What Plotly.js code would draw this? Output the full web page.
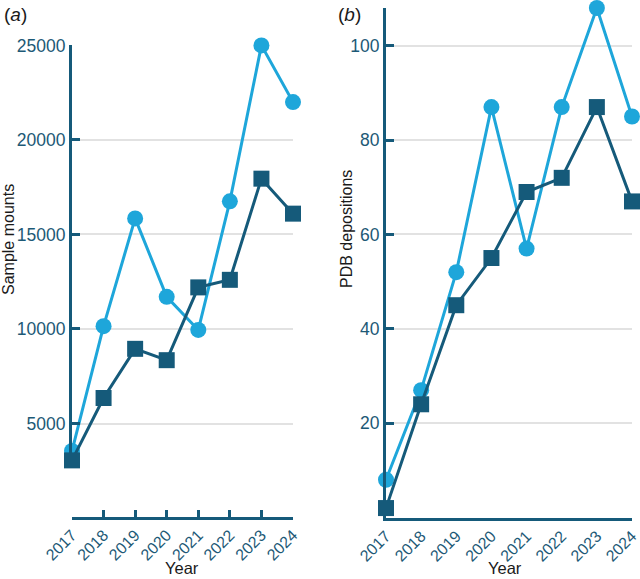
<!DOCTYPE html>
<html>
<head>
<meta charset="utf-8">
<script src="https://cdn.plot.ly/plotly-3.0.1.min.js"></script>
<style>
  html, body { margin: 0; padding: 0; background: #fff; }
  #plotdiv { width: 640px; height: 579px; }
</style>
</head>
<body>
<div id="plotdiv"></div>
<script>
'use strict'
/* global Plotly */

// values
const years = [2017, 2018, 2019, 2020, 2021, 2022, 2023, 2024]
const mountsLight = [3550, 10150, 15850, 11700, 9950, 16750, 25000, 22000]
const mountsDark = [3050, 6350, 8950, 8350, 12200, 12600, 17950, 16100]
const pdbLight = [8, 27, 52, 87, 57, 87, 108, 85]
const pdbDark = [2, 24, 45, 55, 69, 72, 87, 67]
const mountTicks = [5000, 10000, 15000, 20000, 25000]
const mountLabels = ['5000', '10000', '15000', '20000', '25000']
const pdbTicks = [20, 40, 60, 80, 100]

const LIGHT = '#1ea6da'
const DARK = '#155a7a'
const GRID = '#e2e2e2'
const TICKTXT = '#1d5976'
const TITLE = '#1a1a1a'
const FONT = 'Liberation Sans, Arial, sans-serif'
const W = 640
const H = 579

// pixel -> paper helpers (margins are zero)
const px = (x) => x / W
const py = (y) => 1 - y / H

function series (x, y, xa, ya, light) {
  return {
    x: x,
    y: y,
    xaxis: xa,
    yaxis: ya,
    mode: 'lines+markers',
    cliponaxis: false,
    line: {color: light ? LIGHT : DARK, width: 3},
    marker: {
      color: light ? LIGHT : DARK,
      size: 16,
      symbol: light ? 'circle' : 'square'
    },
    hoverinfo: 'skip'
  }
}

const data = [
  series(years, mountsLight, 'x', 'y', true),
  series(years, mountsDark, 'x', 'y', false),
  series(years, pdbLight, 'x2', 'y2', true),
  series(years, pdbDark, 'x2', 'y2', false)
]

const tickfont = {family: FONT, size: 17.5, color: TICKTXT}
const xtickfont = {family: FONT, size: 16, color: TICKTXT}

const yCommon = {
  showline: true,
  linewidth: 3,
  linecolor: DARK,
  ticks: 'inside',
  ticklen: 8,
  tickwidth: 3,
  tickcolor: DARK,
  tickfont: tickfont,
  tickmode: 'array',
  showgrid: true,
  gridcolor: GRID,
  gridwidth: 2,
  zeroline: false
}

const layout = {
  width: W,
  height: H,
  margin: {l: 0, r: 0, t: 0, b: 0},
  paper_bgcolor: '#fff',
  plot_bgcolor: 'rgba(0,0,0,0)',
  showlegend: false,
  font: {family: FONT},
  xaxis: {
    domain: [px(72), px(293)],
    range: [2017, 2024],
    anchor: 'free',
    position: py(517.5),
    showline: true,
    linewidth: 3,
    linecolor: DARK,
    ticks: 'inside',
    ticklen: 7,
    tickwidth: 3,
    tickcolor: DARK,
    tickvals: years,
    tickangle: -45,
    tickfont: xtickfont,
    showgrid: false,
    zeroline: false
  },
  yaxis: Object.assign({}, yCommon, {
    domain: [py(467), py(45)],
    range: [2700, 25020],
    anchor: 'x',
    tickvals: mountTicks,
    ticktext: mountLabels
  }),
  xaxis2: {
    domain: [px(386), px(632)],
    range: [2017, 2024],
    anchor: 'y2',
    showline: true,
    linewidth: 3,
    linecolor: DARK,
    ticks: '',
    tickvals: years,
    tickangle: -45,
    tickfont: xtickfont,
    showgrid: false,
    zeroline: false
  },
  yaxis2: Object.assign({}, yCommon, {
    domain: [py(517.5), py(8)],
    range: [0, 108],
    anchor: 'x2',
    tickvals: pdbTicks
  }),
  annotations: [
    {text: '(<i>a</i>)', x: px(2), y: py(14), xanchor: 'left', size: 19},
    {text: '(<i>b</i>)', x: px(336), y: py(14), xanchor: 'left', size: 19},
    {text: 'Sample mounts', x: px(9), y: py(240), textangle: -90, size: 16},
    {text: 'PDB depositions', x: px(347), y: py(229), textangle: -90, size: 16},
    {text: 'Year', x: px(182), y: py(568), size: 16.5},
    {text: 'Year', x: px(505), y: py(568), size: 16.5}
  ].map(a => ({
    text: a.text,
    x: a.x,
    y: a.y,
    textangle: a.textangle || 0,
    xref: 'paper',
    yref: 'paper',
    showarrow: false,
    xanchor: a.xanchor || 'center',
    yanchor: 'middle',
    font: {family: FONT, size: a.size, color: TITLE}
  }))
}

const config = {displaylogo: false, displayModeBar: false, staticPlot: true}

Plotly.newPlot('plotdiv', data, layout, config)
</script>
</body>
</html>
